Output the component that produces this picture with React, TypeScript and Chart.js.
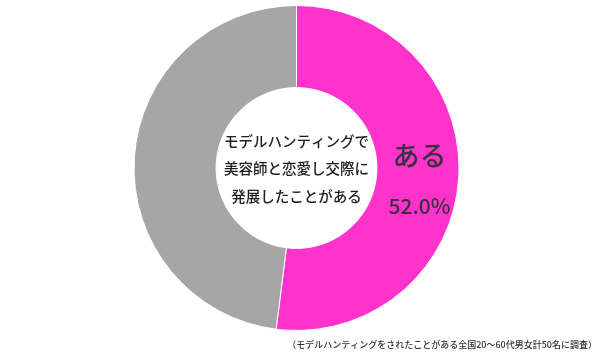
import React, { useEffect, useRef } from "react";
import { Chart, registerables } from "chart.js";

Chart.register(...registerables);

const categories = ["ある", "ない"];
const values = [52.0, 48.0];
const colors = ["#ff33cc", "#a6a6a6"];
const centerLines = ["モデルハンティングで", "美容師と恋愛し交際に", "発展したことがある"];
const valueLabel = "52.0%";
const footnote = "（モデルハンティングをされたことがある全国20～60代男女計50名に調査）";

const FONT = '"Noto Sans CJK JP", "Noto Sans", sans-serif';

const textPlugin = {
  id: "textPlugin",
  afterDraw(chart: any) {
    const ctx = chart.ctx;
    const meta = chart.getDatasetMeta(0);
    const arc = meta.data[0];
    const cx = arc.x;
    const cy = arc.y;
    ctx.save();
    ctx.textAlign = "center";
    ctx.textBaseline = "middle";
    ctx.fillStyle = "#1e1e1e";
    ctx.font = `500 14.5px ${FONT}`;
    centerLines.forEach((line, i) => {
      ctx.fillText(line, cx, cy - 27 + i * 27.5);
    });
    // label on pink slice
    ctx.fillStyle = "#3a3040";
    ctx.font = `500 27px ${FONT}`;
    ctx.fillText(categories[0], cx + 123, cy - 12);
    ctx.font = `500 21px ${FONT}`;
    ctx.fillText(valueLabel, cx + 123, cy + 38);
    // footnote
    ctx.fillStyle = "#333333";
    ctx.font = `500 9px ${FONT}`;
    ctx.textAlign = "right";
    ctx.fillText(footnote, 597, 345);
    ctx.restore();
  },
};

export default function App() {
  const ref = useRef<HTMLCanvasElement>(null);
  useEffect(() => {
    if (!ref.current) return;
    const chart = new Chart(ref.current, {
      type: "doughnut",
      data: {
        labels: categories,
        datasets: [
          {
            data: values,
            backgroundColor: colors,
            borderColor: "#ffffff",
            borderWidth: 1,
          },
        ],
      },
      options: {
        responsive: false,
        animation: false,
        cutout: "49.5%",
        layout: { padding: { top: 5, bottom: 25, left: 0, right: 7 } },
        plugins: {
          legend: { display: false },
          tooltip: { enabled: false },
        },
      },
      plugins: [textPlugin],
    });
    return () => chart.destroy();
  }, []);
  return (
    <div style={{ position: "absolute", left: 0, top: 0, width: 600, height: 356, background: "#fff" }}>
      <canvas ref={ref} width={600} height={356} style={{ width: 600, height: 356 }} />
    </div>
  );
}
